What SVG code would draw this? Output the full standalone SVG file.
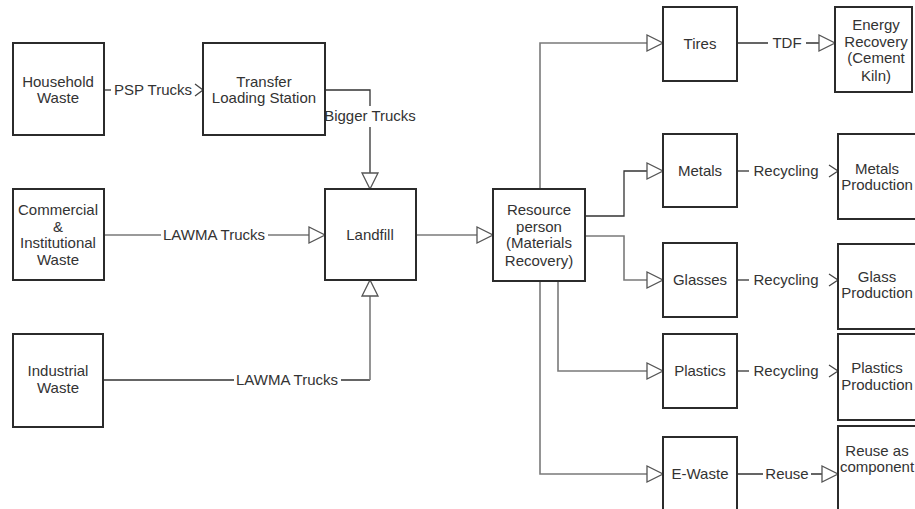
<svg xmlns="http://www.w3.org/2000/svg" width="915" height="509" viewBox="0 0 915 509">
<style>
  .box { fill: #ffffff; stroke: #2b2b2b; stroke-width: 2; }
  .t { font-family: "Liberation Sans", Arial, sans-serif; font-size: 15px; fill: #333333; text-anchor: middle; }
  .ln { fill: none; stroke: #333333; stroke-width: 1.3; }
  .lg { fill: none; stroke: #7a7a7a; stroke-width: 1.6; }
  .tri { fill: #ffffff; stroke: #555555; stroke-width: 1.3; }
  .chev { fill: none; stroke: #444444; stroke-width: 1.3; }
</style>
<rect x="0" y="0" width="915" height="509" fill="#ffffff"/>

<g id="connectors">
  <!-- Household -> Transfer -->
  <path class="ln" d="M104,90 H111"/>
  <text class="t" x="153" y="95">PSP Trucks</text>
  <polyline class="chev" points="195,84 203,90 195,96"/>
  <!-- Transfer -> Landfill -->
  <path class="ln" d="M325,90 H370 V106 M370,127 V173"/>
  <text class="t" x="370" y="121">Bigger Trucks</text>
  <polygon class="tri" points="362,173 378,173 370,189"/>
  <!-- Commercial -> Landfill -->
  <path class="lg" d="M104,235 H161 M268,235 H309"/>
  <text class="t" x="214" y="240">LAWMA Trucks</text>
  <polygon class="tri" points="309,227 309,243 325,235"/>
  <!-- Industrial -> Landfill -->
  <path class="ln" d="M103,380 H234 M341,380 H370"/>
  <path class="lg" d="M370,380 V296"/>
  <text class="t" x="287" y="385">LAWMA Trucks</text>
  <polygon class="tri" points="362,296 378,296 370,280"/>
  <!-- Landfill -> Resource -->
  <path class="lg" d="M416,235 H477"/>
  <polygon class="tri" points="477,227 477,243 493,235"/>
  <!-- Resource -> Tires -->
  <path class="lg" d="M540,189 V43 H647"/>
  <polygon class="tri" points="647,35 647,51 663,43"/>
  <!-- Resource -> Metals -->
  <path class="ln" d="M585,216 H624 V171 H647"/>
  <polygon class="tri" points="647,163 647,179 663,171"/>
  <!-- Resource -> Glasses -->
  <path class="lg" d="M585,236 H624 V280 H647"/>
  <polygon class="tri" points="647,272 647,288 663,280"/>
  <!-- Resource -> Plastics -->
  <path class="lg" d="M558,281 V371 H647"/>
  <polygon class="tri" points="647,363 647,379 663,371"/>
  <!-- Resource -> E-Waste -->
  <path class="lg" d="M540,281 V474 H647"/>
  <polygon class="tri" points="647,466 647,482 663,474"/>
  <!-- Tires -> Energy -->
  <path class="ln" d="M737,43 H768 M806,43 H819"/>
  <text class="t" x="787" y="48">TDF</text>
  <polygon class="tri" points="819,35 819,51 835,43"/>
  <!-- Metals -> Metals Production -->
  <path class="ln" d="M737,171 H749"/>
  <text class="t" x="786" y="176">Recycling</text>
  <polyline class="chev" points="829,165 838,171 829,177"/>
  <!-- Glasses -> Glass Production -->
  <path class="ln" d="M737,280 H749"/>
  <text class="t" x="786" y="285">Recycling</text>
  <polyline class="chev" points="829,274 838,280 829,286"/>
  <!-- Plastics -> Plastics Production -->
  <path class="ln" d="M737,371 H749"/>
  <text class="t" x="786" y="376">Recycling</text>
  <polyline class="chev" points="829,365 838,371 829,377"/>
  <!-- E-Waste -> Reuse -->
  <path class="ln" d="M737,474 H763 M811,474 H822"/>
  <text class="t" x="787" y="479">Reuse</text>
  <polygon class="tri" points="822,466 822,482 838,474"/>
</g>

<g id="household">
  <rect class="box" x="13" y="43" width="91" height="92"/>
  <text class="t" x="58" y="87">Household</text>
  <text class="t" x="58" y="103">Waste</text>
</g>
<g id="transfer">
  <rect class="box" x="203" y="43" width="122" height="92"/>
  <text class="t" x="264" y="87">Transfer</text>
  <text class="t" x="264" y="103">Loading Station</text>
</g>
<g id="commercial">
  <rect class="box" x="13" y="189" width="91" height="91"/>
  <text class="t" x="58" y="215">Commercial</text>
  <text class="t" x="58" y="232">&amp;</text>
  <text class="t" x="58" y="248">Institutional</text>
  <text class="t" x="58" y="265">Waste</text>
</g>
<g id="landfill">
  <rect class="box" x="325" y="189" width="91" height="91"/>
  <text class="t" x="370" y="240">Landfill</text>
</g>
<g id="industrial">
  <rect class="box" x="13" y="334" width="90" height="93"/>
  <text class="t" x="58" y="376">Industrial</text>
  <text class="t" x="58" y="393">Waste</text>
</g>
<g id="resource">
  <rect class="box" x="493" y="189" width="92" height="92"/>
  <text class="t" x="539" y="215">Resource</text>
  <text class="t" x="539" y="232">person</text>
  <text class="t" x="539" y="248">(Materials</text>
  <text class="t" x="539" y="266">Recovery)</text>
</g>
<g id="tires">
  <rect class="box" x="663" y="7" width="74" height="74"/>
  <text class="t" x="700" y="49">Tires</text>
</g>
<g id="energy">
  <rect class="box" x="835" y="7" width="77" height="85"/>
  <text class="t" x="876" y="30">Energy</text>
  <text class="t" x="876" y="47">Recovery</text>
  <text class="t" x="876" y="63">(Cement</text>
  <text class="t" x="876" y="81">Kiln)</text>
</g>
<g id="metals">
  <rect class="box" x="663" y="134" width="74" height="73"/>
  <text class="t" x="700" y="176">Metals</text>
</g>
<g id="metals-production">
  <rect class="box" x="838" y="134" width="90" height="85"/>
  <text class="t" x="877" y="174">Metals</text>
  <text class="t" x="877" y="190">Production</text>
</g>
<g id="glasses">
  <rect class="box" x="663" y="243" width="74" height="74"/>
  <text class="t" x="700" y="285">Glasses</text>
</g>
<g id="glass-production">
  <rect class="box" x="838" y="244" width="90" height="85"/>
  <text class="t" x="877" y="282">Glass</text>
  <text class="t" x="877" y="298">Production</text>
</g>
<g id="plastics">
  <rect class="box" x="663" y="334" width="74" height="74"/>
  <text class="t" x="700" y="376">Plastics</text>
</g>
<g id="plastics-production">
  <rect class="box" x="838" y="334" width="90" height="86"/>
  <text class="t" x="877" y="373">Plastics</text>
  <text class="t" x="877" y="390">Production</text>
</g>
<g id="e-waste">
  <rect class="box" x="663" y="437" width="74" height="82"/>
  <text class="t" x="700" y="479">E-Waste</text>
</g>
<g id="reuse-component">
  <rect class="box" x="838" y="426" width="90" height="95"/>
  <text class="t" x="877" y="456">Reuse as</text>
  <text class="t" x="877" y="472">component</text>
</g>
</svg>
